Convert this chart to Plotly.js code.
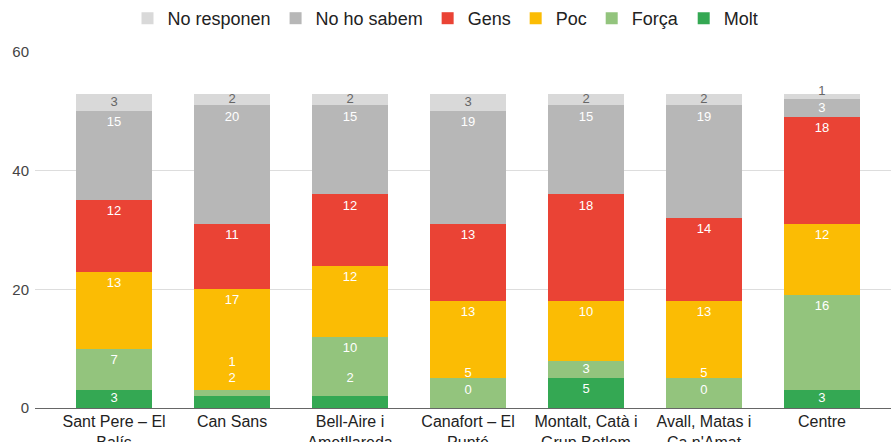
<!DOCTYPE html>
<html>
<head>
<meta charset="utf-8">
<script src="https://cdn.plot.ly/plotly-3.0.1.min.js"></script>
<style>
  html, body { margin: 0; padding: 0; background: #fff; }
  #chart { width: 891px; height: 442px; }
</style>
</head>
<body>
<div id="chart"></div>
<script>
// Chart data
const categories = [
    "Sant Pere – El<br>Balís",
    "Can Sans",
    "Bell-Aire i<br>Ametllareda",
    "Canafort – El<br>Punté",
    "Montalt, Catà i<br>Grup Betlem",
    "Avall, Matas i<br>Ca n'Amat",
    "Centre"
];

const molt       = [3, 2, 2, 0, 5, 0, 3];
const forca      = [7, 1, 10, 5, 3, 5, 16];
const poc        = [13, 17, 12, 13, 10, 13, 12];
const gens       = [12, 11, 12, 13, 18, 14, 18];
const noHoSabem  = [15, 20, 15, 19, 15, 19, 3];
const noResponen = [3, 2, 2, 3, 2, 2, 1];

const FONT = '"Liberation Sans", Arial, sans-serif';

// stack order, bottom to top
const series = [
    {name: "Molt",        values: molt,       color: "#34a853", label: "#ffffff"},
    {name: "Força",       values: forca,      color: "#93c47d", label: "#ffffff"},
    {name: "Poc",         values: poc,        color: "#fbbc04", label: "#ffffff"},
    {name: "Gens",        values: gens,       color: "#ea4335", label: "#ffffff"},
    {name: "No ho sabem", values: noHoSabem,  color: "#b7b7b7", label: "#ffffff"},
    {name: "No responen", values: noResponen, color: "#d9d9d9", label: "#666666"}
];

// Label positions: near top inside the segment, pushed out when it does not fit
const labelY = series.map(() => []);
for (let i = 0; i < categories.length; i++) {
    let base = 0;
    let prev = -Infinity;
    series.forEach((s, k) => {
        const v = s.values[i];
        const top = base + v;
        let y;
        if (v >= 2.5) {
            y = Math.max(top - 2, base + v / 2);
        } else if (k === series.length - 1) {
            y = base + v / 2;
        } else {
            y = top + 2.9;
        }
        y = Math.max(y, prev + 2.8);
        labelY[k].push(y);
        prev = y;
        base = top;
    });
}

const data = [];
series.forEach(s => {
    data.push({
        type: 'bar',
        x: categories,
        y: s.values,
        name: s.name,
        marker: {color: s.color, line: {width: 0}},
        width: 0.645,
        hoverinfo: 'skip'
    });
});
series.forEach((s, k) => {
    data.push({
        type: 'scatter',
        mode: 'text',
        x: categories,
        y: labelY[k],
        text: s.values.map(String),
        textposition: 'middle center',
        textfont: {family: FONT, size: 13, color: s.label},
        showlegend: false,
        hoverinfo: 'skip',
        cliponaxis: false
    });
});

const layout = {
    width: 891,
    height: 442,
    margin: {l: 35, r: 0, t: 52, b: 34},
    paper_bgcolor: '#ffffff',
    plot_bgcolor: '#ffffff',
    barmode: 'stack',
    bargap: 0,
    font: {family: FONT, color: '#333333'},
    showlegend: true,
    legend: {
        orientation: 'h',
        traceorder: 'reversed',
        xref: 'container',
        yref: 'container',
        x: 0.5,
        xanchor: 'center',
        y: 1,
        yanchor: 'top',
        font: {family: FONT, size: 18, color: '#222222'},
        itemwidth: 30,
        tracegroupgap: 0
    },
    xaxis: {
        type: 'category',
        range: [-0.67, 6.585],
        showgrid: false,
        showline: false,
        zeroline: false,
        ticks: '',
        ticklabelstandoff: 2,
        tickfont: {family: FONT, size: 16, color: '#222222'},
        fixedrange: true
    },
    yaxis: {
        range: [0, 60],
        tickvals: [0, 20, 40, 60],
        showgrid: true,
        gridcolor: '#dddddd',
        gridwidth: 1,
        zeroline: true,
        zerolinecolor: '#666666',
        zerolinewidth: 1,
        ticks: '',
        ticklabelstandoff: 5,
        tickfont: {family: FONT, size: 15, color: '#444444'},
        fixedrange: true
    }
};

Plotly.newPlot('chart', data, layout, {displayModeBar: false, staticPlot: true});
</script>
</body>
</html>
